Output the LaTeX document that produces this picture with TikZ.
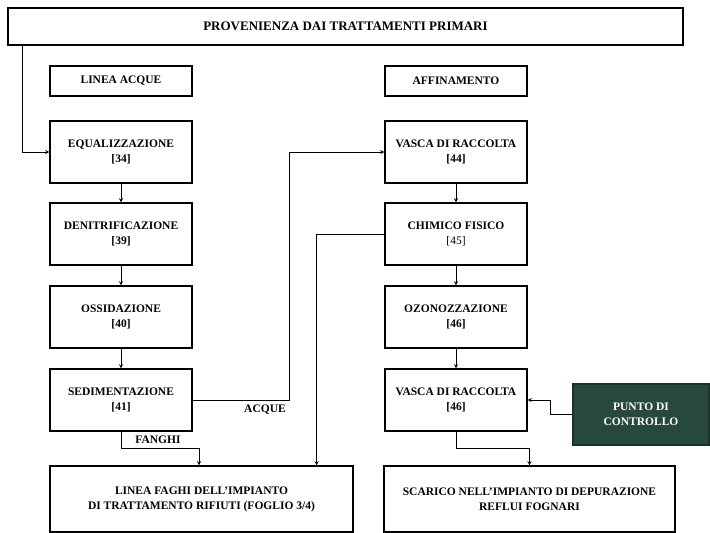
\documentclass[tikz,border=0pt]{standalone}
\usepackage{fontspec}
\setmainfont{Liberation Serif}
\usepackage{tikz}
\definecolor{ctrlgreen}{RGB}{39,72,60}

\begin{document}
\begin{tikzpicture}[
	x=1pt, y=-1pt,
	box/.style={draw, rectangle, line width=1.2pt, minimum width=142pt, minimum height=62pt, inner sep=1pt, align=center, font=\bfseries\fontsize{11.5}{15}\selectfont},
	head/.style={box, minimum height=30pt},
	wide/.style={box, minimum height=66pt},
	ctrl/.style={box, fill=ctrlgreen, draw=ctrlgreen!70!black, text=white, minimum width=136pt, minimum height=61pt},
	lbl/.style={inner sep=1pt, font=\bfseries\fontsize{11.5}{14}\selectfont},
	>=stealth
	]
	\useasboundingbox (0,0) rectangle (710,533);
	
	%-----------------------
	% Customizable positions
	%-----------------------
	\def\xl{121}     % left column: linea acque
	\def\xr{456}     % right column: affinamento
	\def\hhead{81}   % Row 1: column titles
	\def\hone{152}   % Row 2
	\def\htwo{234}   % Row 3
	\def\hthree{317} % Row 4
	\def\hfour{400}  % Row 5
	\def\hend{499}   % Row 6: destinations
	
	%-----------------------
	% Source
	%-----------------------
	\node[box, minimum width=675pt, minimum height=37pt, font=\bfseries\fontsize{13}{15}\selectfont] (prov) at (345.5,26.5) {PROVENIENZA DAI TRATTAMENTI PRIMARI};
	
	%-----------------------
	% Column titles
	%-----------------------
	\node[head] (acq) at (\xl,\hhead) {LINEA ACQUE};
	\node[head] (aff) at (\xr,\hhead) {AFFINAMENTO};
	
	%-----------------------
	% Left column
	%-----------------------
	\node[box] (equ) at (\xl,\hone) {EQUALIZZAZIONE\\{[34]}};
	\node[box] (den) at (\xl,\htwo) {DENITRIFICAZIONE\\{[39]}};
	\node[box] (oss) at (\xl,\hthree) {OSSIDAZIONE\\{[40]}};
	\node[box] (sed) at (\xl,\hfour) {SEDIMENTAZIONE\\{[41]}};
	
	%-----------------------
	% Right column
	%-----------------------
	\node[box] (vas-1) at (\xr,\hone) {VASCA DI RACCOLTA\\{[44]}};
	\node[box] (chi) at (\xr,\htwo) {CHIMICO FISICO\\{\mdseries[45]}};
	\node[box] (ozo) at (\xr,\hthree) {OZONOZZAZIONE\\{[46]}};
	\node[box] (vas-2) at (\xr,\hfour) {VASCA DI RACCOLTA\\{[46]}};
	
	\node[ctrl] (pun) at (641,414.5) {PUNTO DI\\CONTROLLO};
	
	%-----------------------
	% Destinations
	%-----------------------
	\node[wide, minimum width=303pt] (fan) at (201.5,\hend) {LINEA FAGHI DELL'IMPIANTO\\DI TRATTAMENTO RIFIUTI (FOGLIO 3/4)};
	\node[wide, minimum width=291pt] (sca) at (529.5,\hend) {SCARICO NELL'IMPIANTO DI DEPURAZIONE\\REFLUI FOGNARI};
	
	%-----------------------
	% Labels
	%-----------------------
	\node[lbl] (l-acque) at (265,410) {ACQUE};
	\node[lbl] (l-fanghi) at (158,440) {FANGHI};
	
	%-----------------------
	% Connections
	%-----------------------
	\tikzset{connect/.style={->, line width=0.9pt}}
	
	% source -> equalizzazione
	\draw[connect] ([xshift=15pt]prov.south west) |- (equ.west);
	
	% left column downwards
	\draw[connect] (equ.south) -- (den.north);
	\draw[connect] (den.south) -- (oss.north);
	\draw[connect] (oss.south) -- (sed.north);
	
	% acque -> vasca di raccolta
	\draw[connect] (sed.east) -- ++(97,0) |- (vas-1.west);
	
	% fanghi -> linea fanghi
	\draw[connect] (sed.south) -- ++(0,17) -| ([xshift=-2.5pt]fan.north);
	
	% right column downwards
	\draw[connect] (vas-1.south) -- (chi.north);
	\draw[connect] (chi.south) -- (ozo.north);
	\draw[connect] (ozo.south) -- (vas-2.north);
	
	% chimico fisico -> linea fanghi
	\draw[connect] (chi.west) -| ([xshift=-37pt]fan.north east);
	
	% vasca di raccolta -> scarico
	\draw[connect] (vas-2.south) -- ++(0,17) -| (sca.north);
	
	% punto di controllo -> vasca di raccolta
	\draw[connect] (pun.west) -- ++(-22,0) |- (vas-2.east);
	
\end{tikzpicture}
\end{document}
